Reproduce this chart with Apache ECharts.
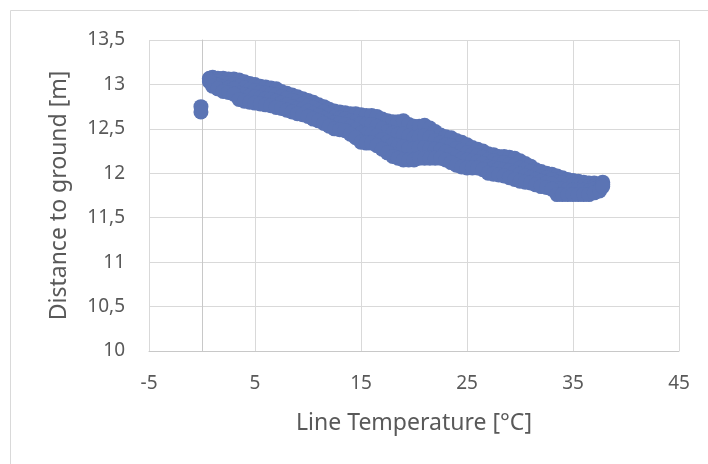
<!DOCTYPE html>
<html>
<head>
<meta charset="utf-8">
<script src="https://cdn.jsdelivr.net/npm/echarts@6/dist/echarts.min.js"></script>
<style>
html,body{margin:0;padding:0;background:#fff;}
#chart{width:708px;height:464px;}
</style>
</head>
<body>
<div id="chart"></div>
<script>
// Line temperature [°C] columns of the scatter band
const temps = [0.7,1,1.5,2,2.5,3,3.5,4,4.5,5,5.5,6,6.5,7,7.5,8,8.5,9,9.5,10,10.5,11,11.5,12,12.5,13,13.5,14,14.5,15,15.5,16,16.5,17,17.5,18,18.5,19,19.5,20,20.5,21,21.5,22,22.5,23,23.5,24,24.5,25,25.5,26,26.5,27,27.5,28,28.5,29,29.5,30,30.5,31,31.5,32,32.5,33,33.5,34,34.5,35,35.5,36,36.5,37,37.5,37.8];
// Distance to ground [m] read at the top, interior and bottom of the band
const upper = [13.07,13.08,13.07,13.07,13.06,13.06,13.05,13.03,13.01,13.00,
  12.98,12.97,12.96,12.95,12.92,12.90,12.88,12.86,12.84,12.82,
  12.80,12.77,12.75,12.72,12.70,12.69,12.68,12.67,12.67,12.66,
  12.65,12.65,12.64,12.61,12.59,12.58,12.58,12.59,12.55,12.53,
  12.53,12.54,12.51,12.47,12.43,12.41,12.40,12.37,12.35,12.32,
  12.29,12.27,12.25,12.22,12.21,12.19,12.19,12.18,12.17,12.14,
  12.11,12.08,12.04,12.02,12.00,11.99,11.97,11.95,11.93,11.92,
  11.91,11.90,11.89,11.89,11.87,11.90];
const upperMid = [13.06,13.05,13.03,13.02,13.01,13.00,12.98,12.96,12.94,12.93,
  12.91,12.90,12.89,12.88,12.86,12.84,12.82,12.80,12.78,12.76,
  12.74,12.71,12.69,12.66,12.63,12.62,12.61,12.59,12.58,12.56,
  12.55,12.55,12.53,12.50,12.47,12.45,12.44,12.44,12.42,12.40,
  12.41,12.42,12.40,12.37,12.34,12.32,12.31,12.28,12.26,12.23,
  12.21,12.20,12.18,12.15,12.14,12.12,12.12,12.10,12.09,12.06,
  12.04,12.02,11.98,11.96,11.95,11.93,11.90,11.89,11.87,11.87,
  11.86,11.85,11.85,11.85,11.85,11.88];
const lowerMid = [13.05,13.01,12.99,12.97,12.96,12.95,12.90,12.88,12.87,12.86,
  12.85,12.84,12.83,12.81,12.79,12.77,12.75,12.73,12.72,12.70,
  12.67,12.65,12.62,12.59,12.57,12.56,12.55,12.52,12.49,12.45,
  12.44,12.44,12.42,12.38,12.35,12.32,12.31,12.30,12.28,12.28,
  12.29,12.29,12.28,12.27,12.26,12.24,12.21,12.18,12.16,12.15,
  12.14,12.13,12.11,12.07,12.06,12.05,12.04,12.03,12.01,11.99,
  11.97,11.95,11.93,11.91,11.89,11.88,11.83,11.82,11.82,11.81,
  11.81,11.81,11.80,11.82,11.82,11.87];
const lower = [13.03,12.98,12.95,12.92,12.91,12.89,12.83,12.81,12.80,12.79,
  12.78,12.77,12.76,12.74,12.73,12.71,12.69,12.67,12.66,12.64,
  12.61,12.59,12.56,12.53,12.50,12.49,12.48,12.44,12.40,12.35,
  12.34,12.34,12.31,12.27,12.23,12.19,12.17,12.15,12.15,12.15,
  12.17,12.17,12.17,12.17,12.17,12.15,12.12,12.09,12.07,12.06,
  12.06,12.06,12.04,12.00,11.99,11.98,11.97,11.95,11.93,11.91,
  11.90,11.89,11.87,11.85,11.84,11.82,11.76,11.76,11.76,11.76,
  11.76,11.76,11.76,11.78,11.80,11.85];
// isolated readings near 0 °C
const outlierTemps = [-0.1, -0.1];
const outlierDist = [12.75, 12.69];

const xTicks = { min: -5, max: 45, interval: 10 };
const yTicks = { min: 10, max: 13.5, interval: 0.5 };

const points = [];
[upper, upperMid, lowerMid, lower].forEach(arr => {
  temps.forEach((t, i) => points.push([t, arr[i]]));
});
outlierTemps.forEach((t, i) => points.push([t, outlierDist[i]]));

const textColor = '#595959';
const font = "'Noto Sans', 'Open Sans', sans-serif";

const chart = echarts.init(document.getElementById('chart'), null, { renderer: 'canvas' });
chart.setOption({
  animation: false,
  backgroundColor: '#ffffff',
  graphic: [{
    type: 'rect',
    shape: { x: 10.5, y: 10.5, width: 720, height: 480 },
    style: { fill: 'none', stroke: '#d9d9d9', lineWidth: 1 },
    silent: true
  }],
  grid: { left: 149, right: 29, top: 40, bottom: 113, containLabel: false },
  xAxis: {
    type: 'value',
    min: xTicks.min, max: xTicks.max, interval: xTicks.interval,
    name: 'Line Temperature [°C]',
    nameLocation: 'middle',
    nameGap: 61,
    nameTextStyle: { color: textColor, fontSize: 23, fontFamily: font },
    axisLine: { show: true, lineStyle: { color: '#c8c8c8', width: 1 } },
    axisTick: { show: false },
    axisLabel: { color: textColor, fontSize: 19, fontFamily: font, margin: 23 },
    splitLine: { show: true, lineStyle: { color: '#d9d9d9', width: 1 } }
  },
  yAxis: {
    type: 'value',
    min: yTicks.min, max: yTicks.max, interval: yTicks.interval,
    name: 'Distance to ground [m]',
    nameLocation: 'middle',
    nameGap: 78,
    nameTextStyle: { color: textColor, fontSize: 23, fontFamily: font },
    axisLine: { show: true, lineStyle: { color: '#c8c8c8', width: 1 } },
    axisTick: { show: false },
    axisLabel: {
      color: textColor, fontSize: 19, fontFamily: font, margin: 24,
      formatter: v => String(v).replace('.', ',')
    },
    splitLine: { show: true, lineStyle: { color: '#d9d9d9', width: 1 } }
  },
  series: [{
    type: 'scatter',
    data: points,
    symbol: 'circle',
    symbolSize: 15,
    itemStyle: { color: '#5b74b4', opacity: 1 },
    emphasis: { disabled: true }
  }]
});
</script>
</body>
</html>
